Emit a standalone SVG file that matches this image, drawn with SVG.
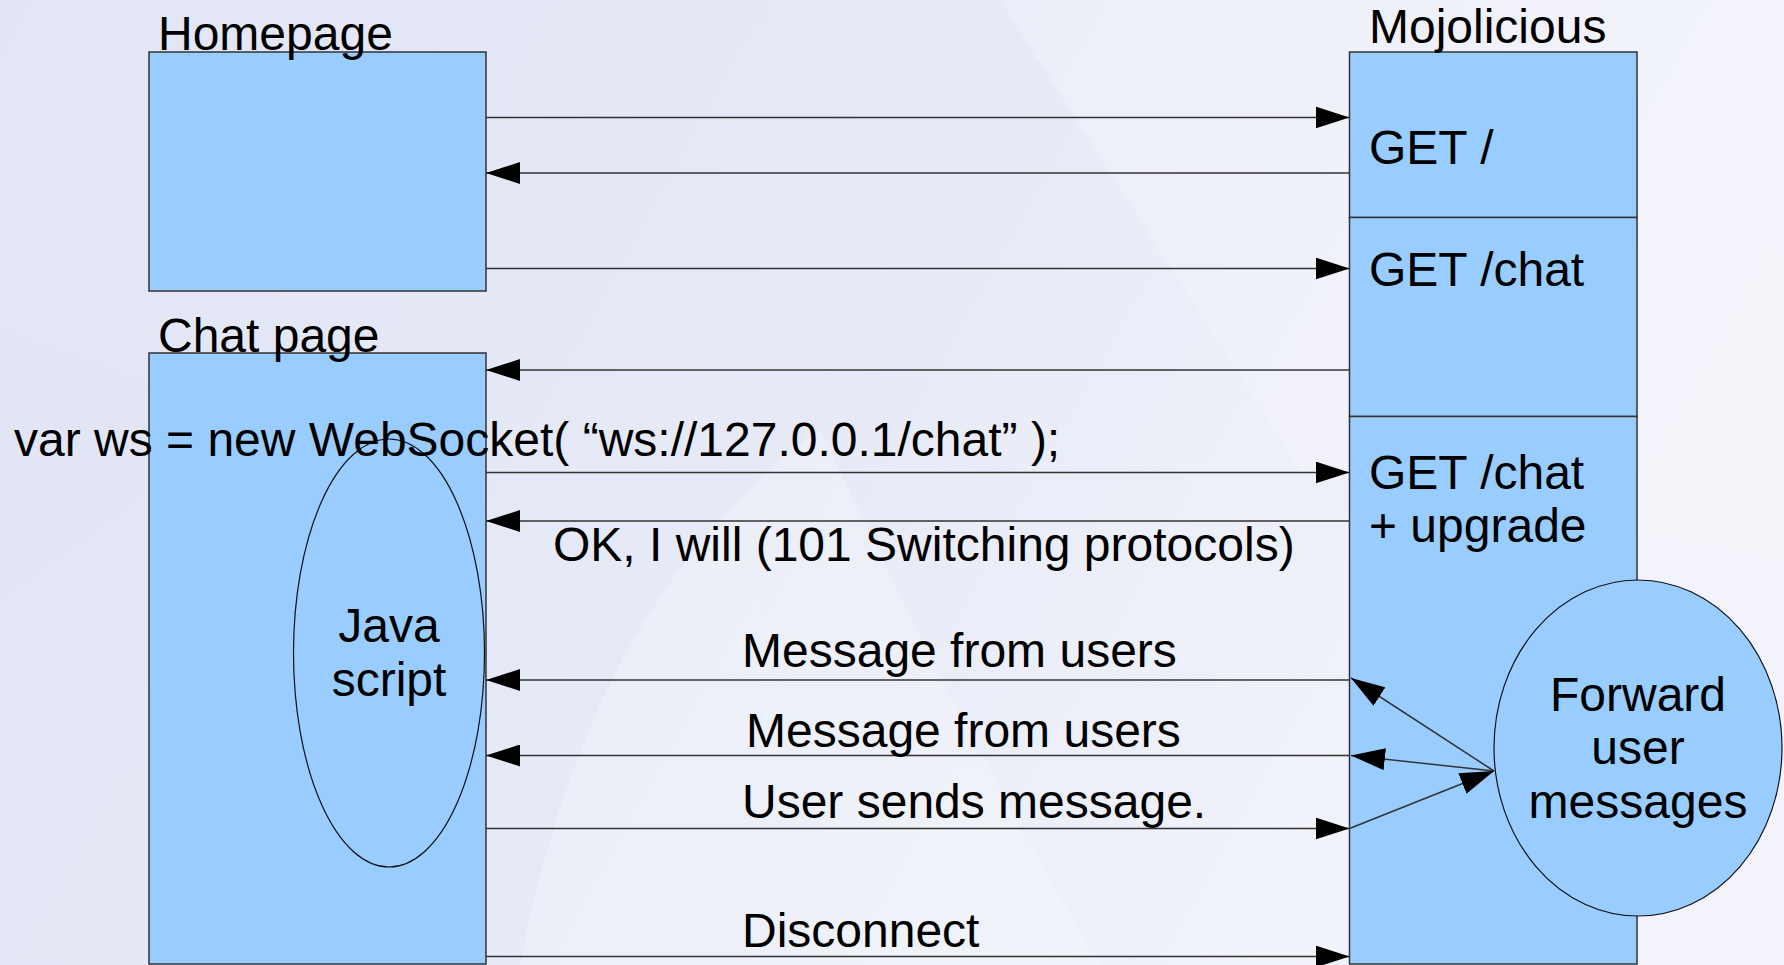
<svg xmlns="http://www.w3.org/2000/svg" width="1784" height="965" viewBox="0 0 1784 965">
<defs>
<linearGradient id="bg" x1="0" y1="0" x2="1" y2="0.3">
<stop offset="0" stop-color="#e2e6f5"/>
<stop offset="0.5" stop-color="#e6e9f6"/>
<stop offset="1" stop-color="#f3f4fb"/>
</linearGradient>
<marker id="ah" markerUnits="userSpaceOnUse" markerWidth="34" markerHeight="22" refX="34" refY="11" orient="auto">
<path d="M0,0 L34,11 L0,22 z" fill="#000"/>
</marker>
<style>
.box{fill:#99ccff;stroke:#333;stroke-width:1.5}
.ell{fill:#99ccff;stroke:#111;stroke-width:1.2}
.t{font-family:"Liberation Sans",Arial,sans-serif;font-size:48px;fill:#000}
.c{text-anchor:middle}
.ln{stroke:#333;stroke-width:1.5;fill:none;marker-end:url(#ah)}
</style>
</defs>
<rect width="1784" height="965" fill="url(#bg)"/>
<g id="background" opacity="0.35">
<polygon points="1000,0 1784,0 1784,560 1300,470" fill="#f6f7fc"/>
<path d="M520,965 C560,760 640,560 820,430 C900,600 1000,800 1100,965 Z" fill="#f7f8fd"/>
<polygon points="0,330 250,420 0,600" fill="#dfe3f3"/>
</g>
<g id="homepage">
<rect class="box" x="149" y="52" width="337" height="239"/>
<text class="t" x="158" y="50">Homepage</text>
</g>
<g id="chatpage">
<rect class="box" x="149" y="353" width="337" height="611"/>
<text class="t" x="158" y="352">Chat page</text>
</g>
<g id="javascript">
<ellipse class="ell" cx="389" cy="653" rx="95.5" ry="214"/>
<text class="t c" x="389" y="642">Java</text>
<text class="t c" x="389" y="696">script</text>
</g>
<g id="mojolicious">
<rect class="box" x="1349.5" y="52" width="287.5" height="165.5"/>
<rect class="box" x="1349.5" y="217.5" width="287.5" height="199"/>
<rect class="box" x="1349.5" y="416.5" width="287.5" height="547.5"/>
<text class="t" x="1369" y="43">Mojolicious</text>
<text class="t" x="1369" y="164">GET /</text>
<text class="t" x="1369" y="286">GET /chat</text>
<text class="t" x="1369" y="489">GET /chat</text>
<text class="t" x="1369" y="542">+ upgrade</text>
</g>
<g id="forward">
<ellipse class="ell" cx="1638" cy="748" rx="144" ry="168"/>
<text class="t c" x="1638" y="711">Forward</text>
<text class="t c" x="1638" y="764">user</text>
<text class="t c" x="1638" y="818">messages</text>
</g>
<g id="connectors">
<line class="ln" x1="486" y1="117.5" x2="1349.5" y2="117.5"/>
<line class="ln" x1="1349.5" y1="173" x2="486" y2="173"/>
<line class="ln" x1="486" y1="268.5" x2="1349.5" y2="268.5"/>
<line class="ln" x1="1349.5" y1="370" x2="486" y2="370"/>
<line class="ln" x1="486" y1="472.5" x2="1349.5" y2="472.5"/>
<line class="ln" x1="1349.5" y1="521" x2="486" y2="521"/>
<line class="ln" x1="1349.5" y1="680" x2="486" y2="680"/>
<line class="ln" x1="1349.5" y1="755.5" x2="486" y2="755.5"/>
<line class="ln" x1="486" y1="828.5" x2="1349.5" y2="828.5"/>
<line class="ln" x1="486" y1="956.5" x2="1349.5" y2="956.5"/>
<line class="ln" x1="1494" y1="771" x2="1351" y2="678"/>
<line class="ln" x1="1494" y1="771" x2="1351" y2="755.5"/>
<line class="ln" x1="1349.5" y1="828.5" x2="1494" y2="771"/>
</g>
<g id="labels">
<text class="t" x="14" y="456">var ws = new WebSocket( “ws://127.0.0.1/chat” );</text>
<text class="t" x="553" y="561">OK, I will (101 Switching protocols)</text>
<text class="t" x="742" y="667">Message from users</text>
<text class="t" x="746" y="747">Message from users</text>
<text class="t" x="742" y="818">User sends message.</text>
<text class="t" x="742" y="947">Disconnect</text>
</g>
</svg>
